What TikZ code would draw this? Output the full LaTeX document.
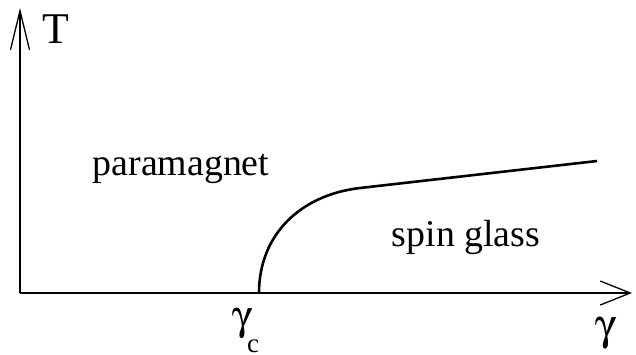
\documentclass[tikz,border=0pt]{standalone}
\usepackage{fontspec}
\setmainfont{Liberation Serif}
\usepackage[Symbol]{upgreek}
\usetikzlibrary{positioning,arrows.meta}

\begin{document}
\begin{tikzpicture}[x=1bp, y=-1bp,
  ax/.style={line width=1.3bp, black},
  bnd/.style={line width=2.6bp, black},
  lbl/.style={inner sep=0pt, anchor=base, font=\fontsize{38}{40}\selectfont}]
\useasboundingbox (0,0) rectangle (636,354);
% axes
\coordinate (o) at (20,293);
\coordinate (ttop) at (20,8);
\coordinate (gend) at (632,293);
\draw[ax, -{Straight Barb[length=39bp,width=19bp,line width=1.3bp]}] (o) -- (ttop);
\draw[ax, -{Straight Barb[length=30bp,width=24bp,line width=1.3bp]}] (o) -- (gend);
% phase boundary
\coordinate (gc) at (259,293);
\coordinate (e) at (597,161);
\draw[bnd] (gc) .. controls (259,235) and (300,195) .. (360,188) -- (e);
% labels
\node[lbl, font=\fontsize{44}{46}\selectfont] (t) at (56,43) {T};
\node[lbl] (para) at (181,175) {paramagnet};
\node[lbl] (sg) at (466,246) {spin glass};
\node[lbl, font=\fontsize{44}{46}\selectfont] (gam) at (606,339) {$\upgamma$};
\node[lbl, font=\fontsize{42}{44}\selectfont] (gamc) at (243,329) {$\upgamma$};
\node[lbl, font=\fontsize{27}{29}\selectfont] (c) at (253,352) {c};
\end{tikzpicture}
\end{document}
